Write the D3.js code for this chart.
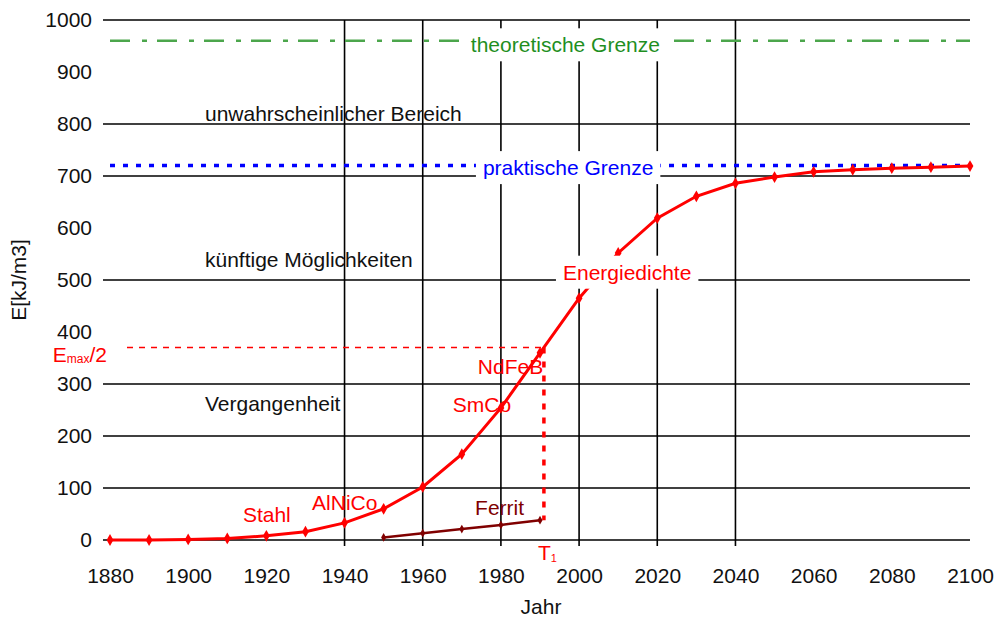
<!DOCTYPE html>
<html lang="de">
<head>
<meta charset="utf-8">
<title>Energiedichte von Dauermagneten</title>
<script src="https://d3js.org/d3.v7.min.js"></script>
<style>
  body { margin: 0; background: #fff; }
  svg text { font-family: "Liberation Sans", Arial, sans-serif; }
</style>
</head>
<body>
<svg width="997" height="622"></svg>
<script>
// --- data ---
var energyYears  = [1880, 1890, 1900, 1910, 1920, 1930, 1940, 1950, 1960, 1970, 1980, 1990,
                    2000, 2010, 2020, 2030, 2040, 2050, 2060, 2070, 2080, 2090, 2100];
var energyValues = [0, 0, 1, 3, 8, 16, 33, 60, 102, 165, 254, 360,
                    465, 552, 619, 661, 686, 698, 708, 712, 715, 717, 719];

var ferritYears  = [1950, 1960, 1970, 1980, 1990];
var ferritValues = [5, 13, 21, 29, 38];

var xTicks = [1880, 1900, 1920, 1940, 1960, 1980, 2000, 2020, 2040, 2060, 2080, 2100];
var yTicks = [0, 100, 200, 300, 400, 500, 600, 700, 800, 900, 1000];
var hGrid  = [0, 100, 200, 300, 500, 700, 800, 1000];
var vGrid  = [1940, 1960, 1980, 2000, 2020, 2040];

var theoLimit = 960, practLimit = 720;
var emaxHalf = 370, t1 = 1991;

// region texts (year, value anchor)
var regionLabels = [
  {text: "unwahrscheinlicher Bereich", year: 1904.3, value: 821},
  {text: "künftige Möglichkeiten",     year: 1904.3, value: 540},
  {text: "Vergangenheit",              year: 1904.3, value: 262}
];
var magnetLabels = [
  {text: "Stahl",  year: 1914,   value: 50},
  {text: "AlNiCo", year: 1931.7, value: 73},
  {text: "SmCo",   year: 1967.7, value: 260},
  {text: "NdFeB",  year: 1974.1, value: 333}
];

var svg = d3.select("svg");

var x = d3.scaleLinear().domain([1880, 2100]).range([110, 970]);
var y = d3.scaleLinear().domain([0, 1000]).range([540, 20]);

var fs = 21;

// grid
svg.append("g").selectAll("line")
    .data(hGrid)
  .enter().append("line")
    .attr("x1", x(1880) - 7).attr("x2", x(2100))
    .attr("y1", function(d) { return y(d); })
    .attr("y2", function(d) { return y(d); })
    .attr("stroke", "#000").attr("stroke-width", 1.6);

svg.append("g").selectAll("line")
    .data(vGrid)
  .enter().append("line")
    .attr("x1", function(d) { return x(d); })
    .attr("x2", function(d) { return x(d); })
    .attr("y1", y(1000)).attr("y2", y(0) + 6)
    .attr("stroke", "#000").attr("stroke-width", 1.6);

// axes (labels only)
var yAxis = svg.append("g")
    .attr("transform", "translate(100,0)")
    .call(d3.axisLeft(y).tickValues(yTicks).tickSize(0).tickPadding(8).tickFormat(d3.format("d")));
yAxis.select(".domain").remove();

var xAxis = svg.append("g")
    .attr("transform", "translate(0," + y(0) + ")")
    .call(d3.axisBottom(x).tickValues(xTicks).tickSize(0).tickPadding(28).tickFormat(d3.format("d")));
xAxis.select(".domain").remove();

svg.selectAll(".tick text")
    .attr("font-size", fs)
    .attr("font-family", "Liberation Sans, Arial, sans-serif")
    .attr("fill", "#111");

svg.append("text")
    .attr("transform", "translate(26,280) rotate(-90)")
    .attr("text-anchor", "middle")
    .attr("font-size", fs)
    .attr("fill", "#111")
    .text("E[kJ/m3]");

svg.append("text")
    .attr("x", 541).attr("y", 614)
    .attr("text-anchor", "middle")
    .attr("font-size", fs)
    .attr("fill", "#111")
    .text("Jahr");

// limit lines
svg.append("line")
    .attr("x1", x(1880)).attr("x2", x(2100))
    .attr("y1", y(theoLimit)).attr("y2", y(theoLimit))
    .attr("stroke", "#4ca64c").attr("stroke-width", 2.5)
    .attr("stroke-dasharray", "20,12,5,10");

svg.append("line")
    .attr("x1", x(1880)).attr("x2", x(2100))
    .attr("y1", y(practLimit)).attr("y2", y(practLimit))
    .attr("stroke", "#0000ff").attr("stroke-width", 3.5)
    .attr("stroke-dasharray", "5,8");

// Emax/2 and T1
svg.append("line")
    .attr("x1", 127).attr("x2", x(t1))
    .attr("y1", y(emaxHalf)).attr("y2", y(emaxHalf))
    .attr("stroke", "#ff0000").attr("stroke-width", 1.5)
    .attr("stroke-dasharray", "6,6");

svg.append("line")
    .attr("x1", x(t1)).attr("x2", x(t1))
    .attr("y1", y(emaxHalf)).attr("y2", y(ferritValues[ferritValues.length - 1]))
    .attr("stroke", "#ff0000").attr("stroke-width", 3.5)
    .attr("stroke-dasharray", "6,8");

// curves
var line = d3.line()
    .x(function(d) { return x(d[0]); })
    .y(function(d) { return y(d[1]); });

var energy = d3.zip(energyYears, energyValues);
var ferrit = d3.zip(ferritYears, ferritValues);

svg.append("path")
    .datum(energy)
    .attr("fill", "none")
    .attr("stroke", "#ff0000")
    .attr("stroke-width", 3)
    .attr("d", line);

svg.append("g").selectAll("path")
    .data(energy)
  .enter().append("path")
    .attr("transform", function(d) { return "translate(" + x(d[0]) + "," + y(d[1]) + ")"; })
    .attr("d", d3.symbol().type(d3.symbolDiamond).size(40))
    .attr("fill", "#ff0000");

svg.append("path")
    .datum(ferrit)
    .attr("fill", "none")
    .attr("stroke", "#800000")
    .attr("stroke-width", 2.5)
    .attr("d", line);

svg.append("g").selectAll("path")
    .data(ferrit)
  .enter().append("path")
    .attr("transform", function(d) { return "translate(" + x(d[0]) + "," + y(d[1]) + ")"; })
    .attr("d", d3.symbol().type(d3.symbolDiamond).size(22))
    .attr("fill", "#800000");

// boxed labels (white background hides lines behind)
function boxedLabel(text, cx, cy, color) {
  var g = svg.append("g");
  var rect = g.append("rect").attr("fill", "#fff");
  var t = g.append("text")
      .attr("x", cx).attr("y", cy)
      .attr("text-anchor", "middle")
      .attr("dominant-baseline", "central")
      .attr("font-size", fs)
      .attr("fill", color)
      .text(text);
  var b = t.node().getBBox();
  rect.attr("x", b.x - 7).attr("y", cy - 16.5)
      .attr("width", b.width + 14).attr("height", 33);
}

boxedLabel("theoretische Grenze", x(1996.5), y(theoLimit) + 4, "#1f8f1f");
boxedLabel("praktische Grenze", x(1997.2), y(practLimit) + 2, "#0000ff");
boxedLabel("Energiedichte", x(2012.3), y(515), "#ff0000");

// region texts
svg.append("g").selectAll("text")
    .data(regionLabels)
  .enter().append("text")
    .attr("x", function(d) { return x(d.year); })
    .attr("y", function(d) { return y(d.value); })
    .attr("dominant-baseline", "central")
    .attr("font-size", fs)
    .attr("fill", "#111")
    .text(function(d) { return d.text; });

svg.append("g").selectAll("text")
    .data(magnetLabels)
  .enter().append("text")
    .attr("x", function(d) { return x(d.year); })
    .attr("y", function(d) { return y(d.value); })
    .attr("dominant-baseline", "central")
    .attr("font-size", fs)
    .attr("fill", "#ff0000")
    .text(function(d) { return d.text; });

svg.append("text")
    .attr("x", x(1973.4)).attr("y", y(63))
    .attr("dominant-baseline", "central")
    .attr("font-size", fs)
    .attr("fill", "#800000")
    .text("Ferrit");

// E_max/2 label
var em = svg.append("text")
    .attr("x", 107).attr("y", y(emaxHalf) + 6)
    .attr("text-anchor", "end")
    .attr("dominant-baseline", "central")
    .attr("font-size", fs)
    .attr("fill", "#ff0000");
em.append("tspan").text("E");
em.append("tspan").attr("font-size", 12).attr("dy", 5).text("max");
em.append("tspan").attr("dy", -5).text("/2");

// T1 label
var tl = svg.append("text")
    .attr("x", x(t1) - 6).attr("y", y(0) + 12)
    .attr("dominant-baseline", "central")
    .attr("font-size", fs)
    .attr("fill", "#ff0000");
tl.append("tspan").text("T");
tl.append("tspan").attr("font-size", 11).attr("dy", 6).text("1");
</script>
</body>
</html>
